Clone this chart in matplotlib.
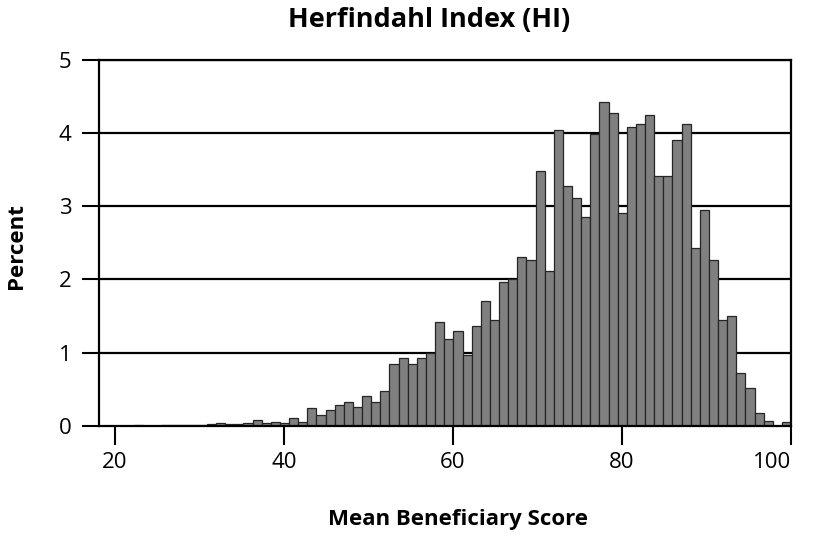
import numpy as np
import matplotlib
matplotlib.use("Agg")
import matplotlib.pyplot as plt

plt.rcParams['font.family'] = ['Open Sans', 'DejaVu Sans']

# Histogram bins (Mean Beneficiary Score)
bin_start = 22.25
bin_width = 1.08
percent = [
    0.01, 0.0, 0.0, 0.01, 0.01, 0.01, 0.01, 0.015, 0.02, 0.04,
    0.02, 0.02, 0.04, 0.075, 0.03, 0.05, 0.03, 0.10, 0.05, 0.24,
    0.14, 0.22, 0.28, 0.33, 0.26, 0.40, 0.33, 0.48, 0.85, 0.93,
    0.85, 0.92, 0.99, 1.42, 1.19, 1.30, 0.97, 1.36, 1.71, 1.44,
    1.97, 2.01, 2.30, 2.26, 3.48, 2.12, 4.04, 3.28, 3.11, 2.85,
    3.99, 4.43, 4.28, 2.91, 4.09, 4.13, 4.25, 3.42, 3.42, 3.90,
    4.13, 2.43, 2.95, 2.27, 1.44, 1.50, 0.72, 0.51, 0.18, 0.06,
    0.0, 0.05,
]
x_ticks = [20, 40, 60, 80, 100]
y_ticks = [0, 1, 2, 3, 4, 5]

title = "Herfindahl Index (HI)"
x_label = "Mean Beneficiary Score"
y_label = "Percent"

W, H = 817, 536
fig = plt.figure(figsize=(W / 100, H / 100), dpi=100)
ax = fig.add_axes([0.1215, 0.2058, 0.9682 - 0.1215, 0.888 - 0.2058])

left_edges = bin_start + bin_width * np.arange(len(percent))
ax.bar(left_edges, percent, width=bin_width, align='edge',
       color='#808080', edgecolor='#262626', linewidth=0.9, zorder=3)

for yv in y_ticks[1:]:
    ax.axhline(yv, color='black', linewidth=1.6, zorder=1)

ax.set_xlim(18.15, 100)
ax.set_ylim(0, 5)
ax.set_xticks(x_ticks)
ax.set_yticks(y_ticks)
ax.tick_params(axis='y', direction='out', length=12, width=1.5, pad=8, labelsize=16)
ax.tick_params(axis='x', direction='out', length=14, width=1.5, pad=5, labelsize=16)
xt_labels = ax.get_xticklabels()
xt_labels[-1].set_horizontalalignment('right')

for sp in ax.spines.values():
    sp.set_linewidth(1.6)
    sp.set_zorder(4)

fig.text(429 / W, 1 - 20 / H, title, fontsize=19.5, fontweight='bold',
         ha='center', va='center')
fig.text(458 / W, 1 - 520 / H, x_label, fontsize=16, fontweight='bold',
         ha='center', va='center')
fig.text(17 / W, 1 - 246 / H, y_label, fontsize=16, fontweight='bold',
         ha='center', va='center', rotation=90)

fig.savefig("out.png", dpi=100)
